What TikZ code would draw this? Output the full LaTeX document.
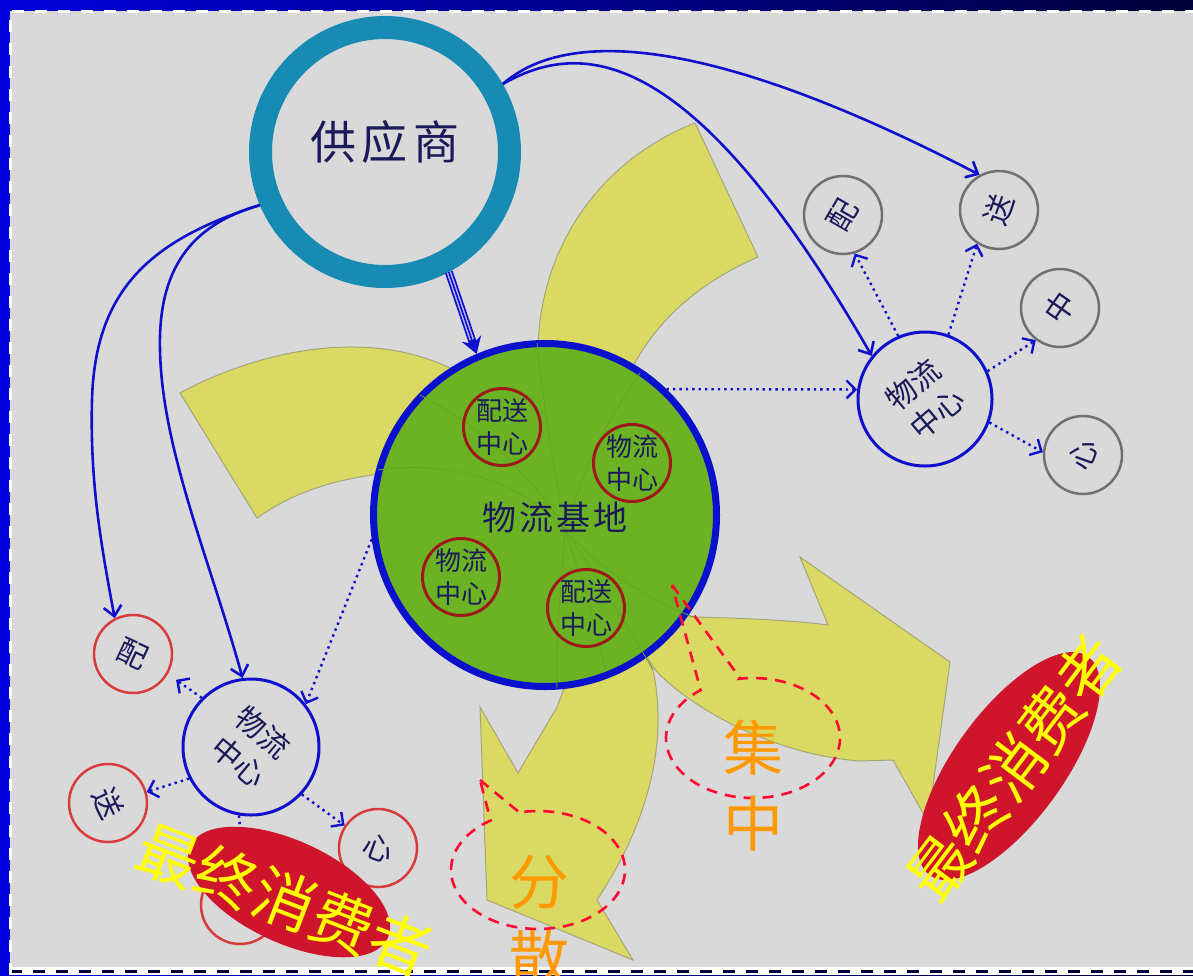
\documentclass[tikz,border=0pt]{standalone}
\usepackage{fontspec}
\newfontfamily\cjk{Noto Sans CJK SC}
\usetikzlibrary{arrows.meta,calc,shapes.geometric}
\definecolor{bggray}{HTML}{D9D9D9}
\definecolor{frameL}{HTML}{0000DC}
\definecolor{frameR}{HTML}{000038}
\definecolor{ringc}{HTML}{178BB3}
\definecolor{navy}{HTML}{1A1A5A}
\definecolor{lineblue}{HTML}{1010CC}
\definecolor{basegreen}{HTML}{6CB324}
\definecolor{baseblue}{HTML}{0A10CC}
\definecolor{darkred}{HTML}{9E1A1A}
\definecolor{circgray}{HTML}{707070}
\definecolor{circred}{HTML}{D83C3C}
\definecolor{petal}{HTML}{D9D964}
\definecolor{petaledge}{HTML}{A6A67A}
\definecolor{consred}{HTML}{CF152B}
\definecolor{callred}{HTML}{FF0833}
\definecolor{orangetxt}{HTML}{FF9900}
\definecolor{yellowtxt}{HTML}{FFFF00}
\begin{document}
\begin{tikzpicture}[x=1pt,y=-1pt,
  lbl/.style 2 args={text=navy,font=\cjk\fontsize{#1}{#2}\selectfont,align=center,inner sep=0pt},
  inr/.style={circle,draw=darkred,line width=3pt,minimum size=77pt,inner sep=0pt},
  gcirc/.style={circle,draw=circgray,line width=2.5pt,minimum size=78pt,inner sep=0pt},
  rcirc/.style={circle,draw=circred,line width=2.5pt,minimum size=78pt,inner sep=0pt},
  wl/.style={circle,draw=lineblue,line width=3pt,minimum size=134pt,inner sep=0pt},
  solidar/.style={draw=lineblue,line width=2.6pt,-{Straight Barb[length=10pt,width=18pt]}},
  dotar/.style={draw=lineblue,line width=2.4pt,dash pattern=on 2.4pt off 4pt,-{Straight Barb[length=9pt,width=18pt]}},
  petalfill/.style={fill=petal,draw=petaledge,line width=1pt},
  faint/.style={draw=basegreen!93!black,line width=0.8pt},
  callout/.style={draw=callred,line width=2.6pt,dash pattern=on 11pt off 8pt},
  bigtxt/.style={font=\cjk\fontsize{60}{76}\selectfont,align=center,inner sep=0pt},
  constxt/.style={font=\cjk\fontsize{62}{62}\selectfont,text=yellowtxt,inner sep=0pt},
  consell/.style={ellipse,fill=consred,inner sep=0pt}
]
\useasboundingbox (0,0) rectangle (1193,975);
% frame
\shade[left color=frameL,right color=frameR] (0,0) rectangle (1193,975);
\fill[white] (10,966) rectangle (1193,975);
\draw[frameR,line width=3pt,dash pattern=on 12pt off 11pt] (10,971.5) -- (1193,971.5);
\fill[bggray] (10,11) rectangle (1193,967);
\draw[white,line width=3pt,dash pattern=on 12pt off 11pt] (10,975) -- (10,11) -- (1193,11);

% petals
\path[petalfill] (538,362) .. controls (535,250) and (600,160) .. (695,123) -- (758,257) .. controls (705,280) and (660,315) .. (632,368) -- cycle;
\path[petalfill] (257,518) -- (180,393) .. controls (240,360) and (360,320) .. (458,372) -- (398,472) .. controls (330,478) and (290,495) .. (257,518) -- cycle;
\path[petalfill] (600,590) -- (693,617) .. controls (740,618) and (790,620) .. (828,625) -- (800,557) -- (950,662) -- (928,822) -- (893,760) -- (860,761) .. controls (780,755) and (700,715) .. (657,672) -- cycle;
\path[petalfill] (480,707) -- (518,773) -- (557,707) -- (575,660) -- (640,640) -- (653,670) .. controls (668,740) and (650,820) .. (597,900) -- (633,960) -- (487,900) -- cycle;

% supplier
\node[circle,draw=ringc,line width=23pt,minimum size=249pt,inner sep=0pt] (sup) at (385,152) {};
\node[lbl={46}{50}] (supt) at (385,142) {供\hspace{6pt}应\hspace{6pt}商};

% base
\node[circle,fill=basegreen,draw=baseblue,line width=7pt,minimum size=343pt,inner sep=0pt] (base) at (545,515) {};
\draw[faint] (537,343) .. controls (545,420) and (555,470) .. (565,530);
\draw[faint] (640,373) .. controls (600,430) and (580,480) .. (565,530);
\draw[faint] (378,470) .. controls (450,460) and (520,480) .. (565,530);
\draw[faint] (420,395) .. controls (470,420) and (530,470) .. (565,530);
\draw[faint] (565,530) .. controls (600,570) and (650,600) .. (693,617);
\draw[faint] (565,530) .. controls (600,580) and (630,630) .. (653,670);
\draw[faint] (565,530) .. controls (560,600) and (555,650) .. (557,688);
\draw[faint] (565,530) .. controls (585,590) and (600,640) .. (605,670);
\node[lbl={34}{40}] (baset) at (555,518) {物\hspace{3pt}流\hspace{3pt}基\hspace{3pt}地};
\node[inr] (i1) at (502,427) {};
\node[lbl={26}{33}] at (i1) {配送\\中心};
\node[inr] (i2) at (632,463) {};
\node[lbl={26}{33}] at (i2) {物流\\中心};
\node[inr] (i3) at (461,577) {};
\node[lbl={26}{33}] at (i3) {物流\\中心};
\node[inr] (i4) at (586,608) {};
\node[lbl={26}{33}] at (i4) {配送\\中心};

% right cluster
\node[wl] (rwl) at (925,399) {};
\node[lbl={30}{38},rotate=40] at (rwl) {物流\\中心};
\node[gcirc] (peiR) at (843,215) {};
\node[lbl={30}{36},rotate=60] at (peiR) {配};
\node[gcirc] (songR) at (999,210) {};
\node[lbl={30}{36},rotate=70] at (songR) {送};
\node[gcirc] (zhR) at (1060,308) {};
\node[lbl={30}{36},rotate=55] at (zhR) {中};
\node[gcirc] (xinR) at (1083,455) {};
\node[lbl={30}{36},rotate=70] at (xinR) {心};

% left cluster
\node[wl,minimum size=136pt] (lwl) at (251,747) {};
\node[lbl={30}{38},rotate=-40] at (lwl) {物流\\中心};
\node[rcirc] (peiL) at (133,654) {};
\node[lbl={30}{36},rotate=-25] at (peiL) {配};
\node[rcirc] (songL) at (108,803) {};
\node[lbl={30}{36},rotate=-65] at (songL) {送};
\node[rcirc] (xinL) at (378,848) {};
\node[lbl={30}{36},rotate=-20] at (xinL) {心};
\node[rcirc] (zhL) at (240,905) {};

% supplier arrows
\draw[lineblue,line width=8pt,-{Stealth[length=16pt,width=20pt]}] (sup.-62) -- (base.113);
\draw[lineblue!30!white,line width=4.5pt,shorten >=15pt] (sup.-62) -- (base.113);
\draw[lineblue,line width=1.6pt,shorten >=15pt] (sup.-62) -- (base.113);
\draw[solidar] (sup.203) .. controls (150,240) and (95,290) .. (92,400) .. controls (90,480) and (100,540) .. (peiL.117);
\draw[solidar] (sup.203) .. controls (190,225) and (158,270) .. (160,350) .. controls (162,450) and (210,560) .. (lwl.97);
\draw[solidar] (sup.30) .. controls (570,25) and (720,40) .. (songR.119);
\draw[solidar] (sup.30) .. controls (580,40) and (690,40) .. (rwl.141);

% dotted arrows
\draw[dotar] (base.46) -- (rwl.172);
\draw[dotar] (rwl.113) -- (peiR.-73);
\draw[dotar] (rwl.70) -- (songR.-123);
\draw[dotar] (rwl.24) -- (zhR.-127);
\draw[dotar] (rwl.-20) -- (xinR.176);
\draw[dotar] (base.188) -- (lwl.38);
\draw[dotar,shorten >=10pt] (lwl.135) -- (peiL.-30);
\draw[dotar] (lwl.207) -- (songL.16);
\draw[dotar] (lwl.-43) -- (xinL.146);
\draw[dotar] (lwl.-100) -- (zhL.85);

% callouts
\draw[callout] (672,585) -- (740,678) -- plot[domain=261:593,samples=90] ({753+87*cos(\x)},{738+60*sin(\x)}) -- cycle;
\draw[callout] (480,780) -- (520,813) -- plot[domain=258:597,samples=90] ({538+87*cos(\x)},{870+59*sin(\x)}) -- cycle;
\node[bigtxt,text=orangetxt] (jz) at (753,786) {集\\中};
\node[bigtxt,text=orangetxt] (fs) at (539,920) {分\\散};

% consumers
\node[consell,minimum width=218pt,minimum height=102pt,rotate=-25] (consL) at (289,892) {};
\node[constxt,rotate=-21] (consLt) at (285,900) {最终消费者};
\node[consell,minimum width=270pt,minimum height=110pt,rotate=54] (consR) at (1009,766) {};
\node[constxt,rotate=53] (consRt) at (1014,768) {最终消费者};
\end{tikzpicture}
\end{document}
